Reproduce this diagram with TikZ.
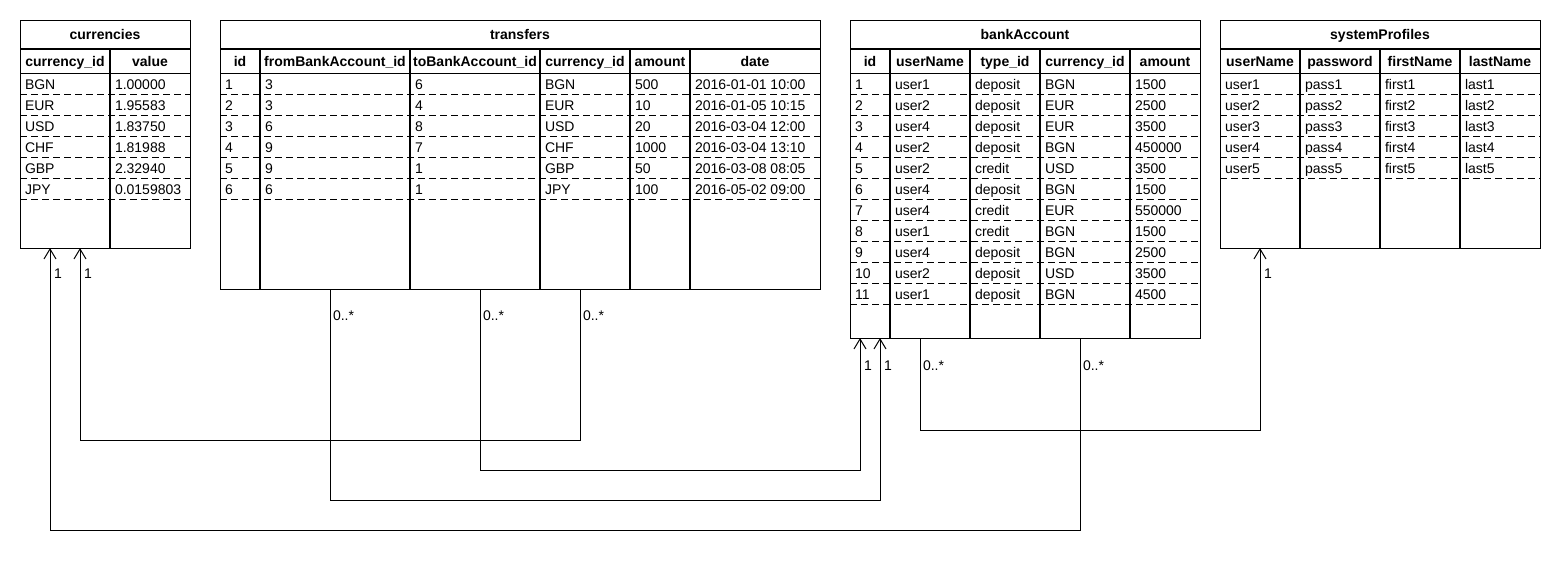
\documentclass[tikz,border=0pt]{standalone}
\usepackage{fontspec}
\setmainfont{Liberation Sans}
\usetikzlibrary{arrows.meta}
\newcommand{\tblfont}{\fontsize{14}{16}\selectfont}
\begin{document}
\begin{tikzpicture}[x=1pt,y=-1pt,
  every node/.style={inner sep=0pt,outer sep=0pt,font=\tblfont},
  frame/.style={draw,line width=1pt,anchor=north west,inner sep=0pt,fill=none},
  heavy/.style={line width=2pt},
  thin/.style={line width=1pt},
  dashrow/.style={line width=1pt,dash pattern=on 7pt off 4pt},
  tabtitle/.style={anchor=base,font=\bfseries\tblfont},
  colhead/.style={anchor=base,font=\bfseries\tblfont},
  cell/.style={anchor=base west},
  mult/.style={anchor=base west},
  assoc/.style={line width=1pt,-{Straight Barb[length=10pt,width=12pt,line width=1pt]}}
]
\useasboundingbox[fill=white] (0,0) rectangle (1560,570);

% ---------------- currencies ----------------
\foreach \i in {1,...,6} \draw[dashrow] (20,{73+21*\i}) -- (190,{73+21*\i});
\draw[heavy] (110,49) -- (110,248);
\draw[heavy] (20,49) -- (190,49);
\draw[thin] (20,73) -- (190,73);
\node[frame,minimum width=170pt,minimum height=228pt] (currencies) at (20,20) {};
\node[tabtitle] (cur-title) at (105,39) {currencies};
\foreach \t/\x [count=\j] in {currency\_id/65,value/150}
  \node[colhead] (cur-h\j) at (\x,66) {\t};
\foreach \a/\b [count=\i] in {BGN/1.00000,EUR/1.95583,USD/1.83750,CHF/1.81988,GBP/2.32940,JPY/0.0159803}{
  \node[cell] (cur-\i-1) at (25,{68+21*\i}) {\a};
  \node[cell] (cur-\i-2) at (115,{68+21*\i}) {\b};
}

% ---------------- transfers ----------------
\foreach \i in {1,...,6} \draw[dashrow] (220,{73+21*\i}) -- (820,{73+21*\i});
\foreach \x in {260,410,540,630,690} \draw[heavy] (\x,49) -- (\x,289);
\draw[heavy] (220,49) -- (820,49);
\draw[thin] (220,73) -- (820,73);
\node[frame,minimum width=600pt,minimum height=269pt] (transfers) at (220,20) {};
\node[tabtitle] (tr-title) at (520,39) {transfers};
\foreach \t/\x [count=\j] in {id/240,fromBankAccount\_id/335,toBankAccount\_id/475,currency\_id/585,amount/660,date/755}
  \node[colhead] (tr-h\j) at (\x,66) {\t};
\foreach \a/\b/\c/\d/\e/\f [count=\i] in {
  1/3/6/BGN/500/2016-01-01 10:00,
  2/3/4/EUR/10/2016-01-05 10:15,
  3/6/8/USD/20/2016-03-04 12:00,
  4/9/7/CHF/1000/2016-03-04 13:10,
  5/9/1/GBP/50/2016-03-08 08:05,
  6/6/1/JPY/100/2016-05-02 09:00}{
  \node[cell] (tr-\i-1) at (225,{68+21*\i}) {\a};
  \node[cell] (tr-\i-2) at (265,{68+21*\i}) {\b};
  \node[cell] (tr-\i-3) at (415,{68+21*\i}) {\c};
  \node[cell] (tr-\i-4) at (545,{68+21*\i}) {\d};
  \node[cell] (tr-\i-5) at (635,{68+21*\i}) {\e};
  \node[cell] (tr-\i-6) at (695,{68+21*\i}) {\f};
}

% ---------------- bankAccount ----------------
\foreach \i in {1,...,11} \draw[dashrow] (850,{73+21*\i}) -- (1200,{73+21*\i});
\foreach \x in {890,970,1040,1130} \draw[heavy] (\x,49) -- (\x,338);
\draw[heavy] (850,49) -- (1200,49);
\draw[thin] (850,73) -- (1200,73);
\node[frame,minimum width=350pt,minimum height=318pt] (bankAccount) at (850,20) {};
\node[tabtitle] (ba-title) at (1025,39) {bankAccount};
\foreach \t/\x [count=\j] in {id/870,userName/930,type\_id/1005,currency\_id/1085,amount/1165}
  \node[colhead] (ba-h\j) at (\x,66) {\t};
\foreach \a/\b/\c/\d/\e [count=\i] in {
  1/user1/deposit/BGN/1500,
  2/user2/deposit/EUR/2500,
  3/user4/deposit/EUR/3500,
  4/user2/deposit/BGN/450000,
  5/user2/credit/USD/3500,
  6/user4/deposit/BGN/1500,
  7/user4/credit/EUR/550000,
  8/user1/credit/BGN/1500,
  9/user4/deposit/BGN/2500,
  10/user2/deposit/USD/3500,
  11/user1/deposit/BGN/4500}{
  \node[cell] (ba-\i-1) at (855,{68+21*\i}) {\a};
  \node[cell] (ba-\i-2) at (895,{68+21*\i}) {\b};
  \node[cell] (ba-\i-3) at (975,{68+21*\i}) {\c};
  \node[cell] (ba-\i-4) at (1045,{68+21*\i}) {\d};
  \node[cell] (ba-\i-5) at (1135,{68+21*\i}) {\e};
}

% ---------------- systemProfiles ----------------
\foreach \i in {1,...,5} \draw[dashrow] (1220,{73+21*\i}) -- (1540,{73+21*\i});
\foreach \x in {1300,1380,1460} \draw[heavy] (\x,49) -- (\x,248);
\draw[heavy] (1220,49) -- (1540,49);
\draw[thin] (1220,73) -- (1540,73);
\node[frame,minimum width=320pt,minimum height=228pt] (systemProfiles) at (1220,20) {};
\node[tabtitle] (sp-title) at (1380,39) {systemProfiles};
\foreach \t/\x [count=\j] in {userName/1260,password/1340,firstName/1420,lastName/1500}
  \node[colhead] (sp-h\j) at (\x,66) {\t};
\foreach \i in {1,...,5}{
  \node[cell] (sp-\i-1) at (1225,{68+21*\i}) {user\i};
  \node[cell] (sp-\i-2) at (1305,{68+21*\i}) {pass\i};
  \node[cell] (sp-\i-3) at (1385,{68+21*\i}) {first\i};
  \node[cell] (sp-\i-4) at (1465,{68+21*\i}) {last\i};
}

% ---------------- attachment points ----------------
\coordinate (cur-in1) at ([xshift=30pt]currencies.south west);
\coordinate (cur-in2) at ([xshift=60pt]currencies.south west);
\coordinate (tr-from) at ([xshift=110pt]transfers.south west);
\coordinate (tr-to)   at ([xshift=260pt]transfers.south west);
\coordinate (tr-cur)  at ([xshift=360pt]transfers.south west);
\coordinate (ba-in1)  at ([xshift=10pt]bankAccount.south west);
\coordinate (ba-in2)  at ([xshift=30pt]bankAccount.south west);
\coordinate (ba-user) at ([xshift=70pt]bankAccount.south west);
\coordinate (ba-cur)  at ([xshift=230pt]bankAccount.south west);
\coordinate (sp-in)   at ([xshift=40pt]systemProfiles.south west);

% ---------------- connectors ----------------
\draw[assoc] (tr-cur) -- ++(0,151) -| (cur-in2);
\draw[assoc] (tr-to) -- ++(0,181) -| (ba-in1);
\draw[assoc] (tr-from) -- ++(0,211) -| (ba-in2);
\draw[assoc] (ba-cur) -- ++(0,192) -| (cur-in1);
\draw[assoc] (ba-user) -- ++(0,92) -| (sp-in);

% ---------------- multiplicities ----------------
\node[mult] (m-cur1) at (54,278) {1};
\node[mult] (m-cur2) at (84,278) {1};
\node[mult] (m-tr1) at (333,320) {0..*};
\node[mult] (m-tr2) at (483,320) {0..*};
\node[mult] (m-tr3) at (583,320) {0..*};
\node[mult] (m-ba1) at (864,370) {1};
\node[mult] (m-ba2) at (884,370) {1};
\node[mult] (m-ba3) at (923,370) {0..*};
\node[mult] (m-ba4) at (1083,370) {0..*};
\node[mult] (m-sp) at (1264,278) {1};
\end{tikzpicture}
\end{document}
